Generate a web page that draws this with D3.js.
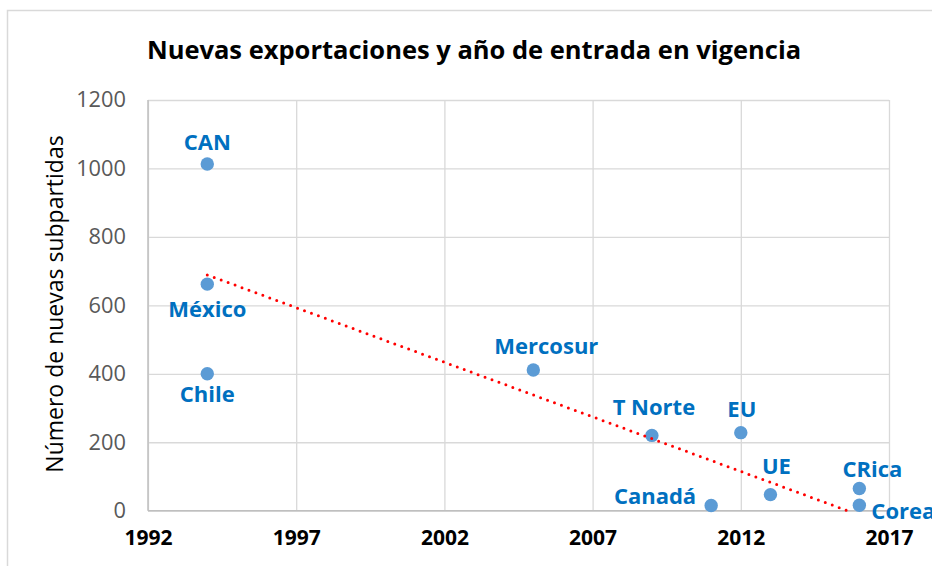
<!DOCTYPE html>
<html>
<head>
<meta charset="utf-8">
<script src="https://cdn.jsdelivr.net/npm/d3@7"></script>
<style>
  body { margin: 0; background: #fff; }
  svg { display: block; }
  text { font-family: "Open Sans", Lato, sans-serif; }
</style>
</head>
<body>
<div id="chart"></div>
<script>
const W = 932, H = 566

// Datos
const acuerdos = ["CAN", "México", "Chile", "Mercosur", "T Norte", "EU", "Canadá", "UE", "CRica", "Corea"]
const anios = [1994, 1994, 1994, 2005, 2009, 2012, 2011, 2013, 2016, 2016]
const subpartidas = [1013, 662, 400, 411, 220, 228, 15, 47, 65, 16]
const xTicks = [1992, 1997, 2002, 2007, 2012, 2017]
const yTicks = [0, 200, 400, 600, 800, 1000, 1200]
// linea de tendencia (extremos)
const tendAnios = [1994, 2015.6]
const tendValores = [689, 0]

// posicion de las etiquetas
const pos = {
  "CAN": [0, -22, "middle"],
  "México": [0, 25, "middle"],
  "Chile": [0, 20.5, "middle"],
  "Mercosur": [13, -24, "middle"],
  "T Norte": [2, -28.5, "middle"],
  "EU": [1, -23.5, "middle"],
  "Canadá": [-15, -9, "end"],
  "UE": [6, -28, "middle"],
  "CRica": [13, -19, "middle"],
  "Corea": [12, 6, "start"]
}

const fuente = "'Open Sans', Lato, sans-serif"

const svg = d3.select("#chart").append("svg")
  .attr("width", W)
  .attr("height", H)

// borde del gráfico
svg.append("path")
  .attr("d", `M7.5,${H} V10.5 H${W}`)
  .attr("fill", "none")
  .attr("stroke", "#d9d9d9")
  .attr("stroke-width", 1.5)

const x = d3.scaleLinear().domain([1992, 2017]).range([148, 889])
const y = d3.scaleLinear().domain([0, 1200]).range([510.7, 100])

// Titulo
svg.append("text")
  .attr("x", 474)
  .attr("y", 58.5)
  .attr("text-anchor", "middle")
  .style("font-size", "25.5px")
  .style("font-weight", "bold")
  .attr("fill", "#000")
  .text("Nuevas exportaciones y año de entrada en vigencia")

// grilla
const gy = svg.append("g")
  .attr("transform", `translate(${x.range()[0]},0)`)
  .call(d3.axisLeft(y).tickValues(yTicks).tickFormat(d3.format("d"))
    .tickSize(-(x.range()[1] - x.range()[0])).tickPadding(22))
gy.select(".domain").remove()
gy.selectAll(".tick line").attr("stroke", "#d9d9d9").attr("stroke-width", 1.3)
gy.selectAll(".tick text")
  .style("font-size", "21.8px")
  .style("font-family", fuente)
  .attr("fill", "#595959")

const gx = svg.append("g")
  .attr("transform", `translate(0,${y(0)})`)
  .call(d3.axisBottom(x).tickValues(xTicks).tickFormat(d3.format("d"))
    .tickSize(-(y(0) - y(1200))).tickPadding(19))
gx.select(".domain").remove()
gx.selectAll(".tick line").attr("stroke", "#d9d9d9").attr("stroke-width", 1.3)
gx.selectAll(".tick text")
  .style("font-size", "21px")
  .style("font-weight", "bold")
  .style("font-family", fuente)
  .attr("fill", "#000")

// ejes
svg.append("line")
  .attr("x1", x(1992)).attr("x2", x(1992))
  .attr("y1", y(1200)).attr("y2", y(0))
  .attr("stroke", "#bfbfbf").attr("stroke-width", 1.5)
svg.append("line")
  .attr("x1", x(1992)).attr("x2", x(2017))
  .attr("y1", y(0)).attr("y2", y(0))
  .attr("stroke", "#bfbfbf").attr("stroke-width", 1.5)

// titulo eje Y
svg.append("text")
  .attr("transform", `translate(63,304) rotate(-90)`)
  .attr("text-anchor", "middle")
  .style("font-size", "23px")
  .attr("fill", "#000")
  .text("Número de nuevas subpartidas")

const datos = acuerdos.map((a, i) => ({ nombre: a, anio: anios[i], valor: subpartidas[i] }))

// puntos
svg.selectAll(".punto")
  .data(datos)
  .enter()
  .append("circle")
  .attr("class", "punto")
  .attr("cx", d => x(d.anio))
  .attr("cy", d => y(d.valor))
  .attr("r", 6.7)
  .attr("fill", "#5b9bd5")

// tendencia
const linea = d3.line()
  .x(d => x(d[0]))
  .y(d => y(d[1]))
svg.append("path")
  .datum(d3.zip(tendAnios, tendValores))
  .attr("d", linea)
  .attr("fill", "none")
  .attr("stroke", "#ff0000")
  .attr("stroke-width", 3)
  .attr("stroke-linecap", "round")
  .attr("stroke-dasharray", "0 7.4")

// etiquetas
svg.selectAll(".etiqueta")
  .data(datos)
  .enter()
  .append("text")
  .attr("class", "etiqueta")
  .attr("x", d => x(d.anio) + pos[d.nombre][0])
  .attr("y", d => y(d.valor) + pos[d.nombre][1])
  .attr("dy", "0.35em")
  .attr("text-anchor", d => pos[d.nombre][2])
  .style("font-size", "22px")
  .style("font-weight", "bold")
  .attr("fill", "#0070c0")
  .text(d => d.nombre)
</script>
</body>
</html>
